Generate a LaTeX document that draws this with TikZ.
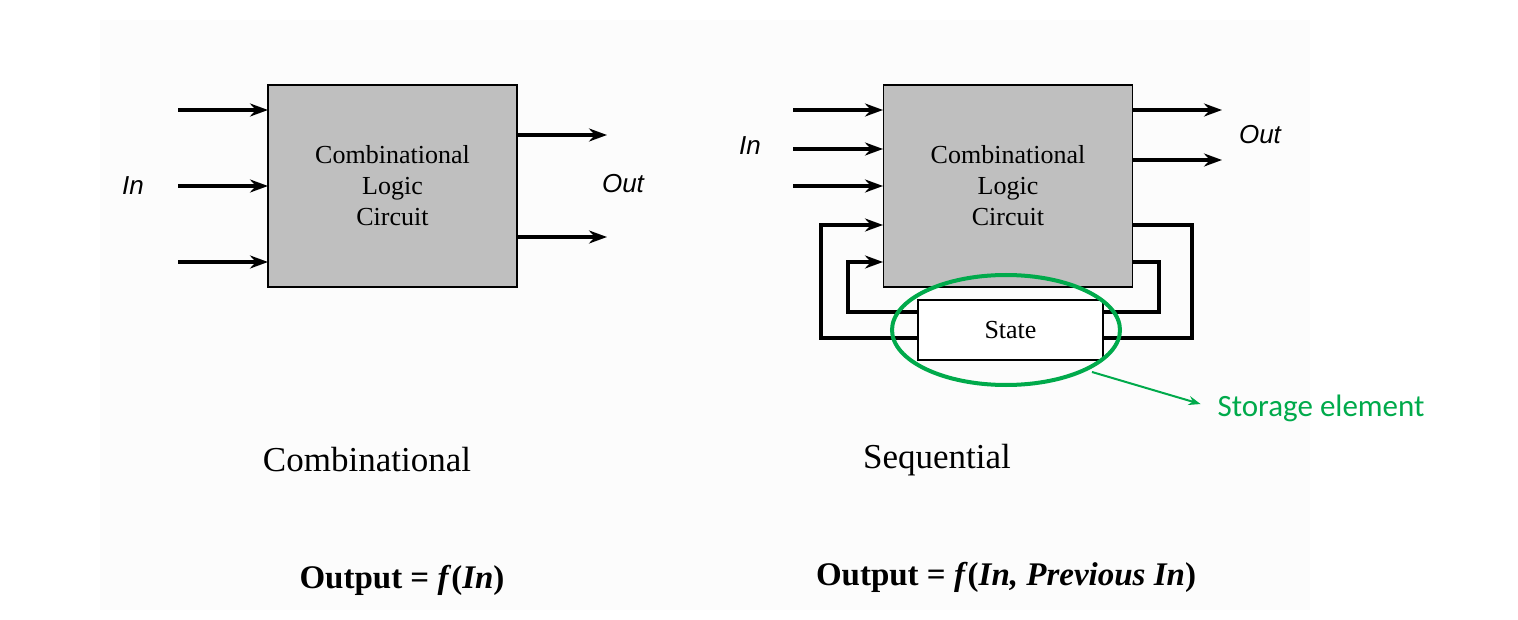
\documentclass[tikz,border=0pt]{standalone}
\usepackage{fontspec}
\setmainfont{Liberation Serif}
\setsansfont{Liberation Sans}
\newfontfamily\calfont{Carlito}
\usetikzlibrary{arrows.meta}
\definecolor{storegreen}{RGB}{0,170,75}
\tikzset{
  block/.style={draw,line width=1.5pt,fill=black!25,minimum width=249pt,minimum height=202pt,align=center,font=\fontsize{26}{31}\selectfont},
  wire/.style={line width=3.5pt,-{Stealth[length=18pt,width=13pt]}},
  loop/.style={line width=3.5pt},
  io/.style={font=\sffamily\itshape\fontsize{26}{30}\selectfont},
}
\begin{document}
\begin{tikzpicture}[x=1pt,y=-1pt,line join=miter]
  \useasboundingbox (0,0) rectangle (1518,620);
  \fill[black!1] (100,20) rectangle (1310,610);

  % combinational
  \node[block] (comb) at (392.5,186) {Combinational\\Logic\\Circuit};
  \foreach \y in {110,186,262}
    \draw[wire] (178,\y) -- (268,\y);
  \foreach \y in {135,237}
    \draw[wire] (517,\y) -- (607,\y);
  \node[io] (inL) at (133,186) {In};
  \node[io] (outL) at (623,184) {Out};

  % sequential
  \node[block] (seq) at (1008,186) {Combinational\\Logic\\Circuit};
  \node[draw,line width=1.5pt,fill=white,minimum width=185pt,minimum height=60pt,font=\fontsize{26}{30}\selectfont] (state) at (1010.5,330) {State};
  \foreach \y in {110,149,186}
    \draw[wire] (793,\y) -- (883,\y);
  \foreach \y in {110,160}
    \draw[wire] (1133,\y) -- (1222,\y);
  \node[io] (inR) at (750,146) {In};
  \node[io] (outR) at (1260,135) {Out};
  \draw[loop] (1133,225) -- (1192,225) -- (1192,338) -- (1103,338);
  \draw[loop] (1133,262) -- (1159,262) -- (1159,312) -- (1103,312);
  \draw[wire] (918,338) -- (821,338) -- (821,225) -- (883,225);
  \draw[wire] (918,312) -- (848,312) -- (848,262) -- (883,262);

  % storage element
  \draw[storegreen,line width=4pt] (1006,330) ellipse[x radius=114pt,y radius=55pt];
  \coordinate (tail) at (1092,372);
  \node[text=storegreen,font=\calfont\fontsize{31}{35}\selectfont,anchor=west] (store) at (1214,408) {Storage element};
  \draw[storegreen,line width=2pt,-{Stealth[length=12pt,width=9pt]},shorten >=14pt] (tail) -- (store.west);

  % captions
  \node[font=\fontsize{35}{40}\selectfont] (capL) at (367,460) {Combinational};
  \node[font=\fontsize{35}{40}\selectfont] (capR) at (937,460) {Sequential};
  \node[font=\bfseries\fontsize{33}{38}\selectfont] (eqL) at (402,580) {Output = \textit{f}(\textit{In})};
  \node[font=\bfseries\fontsize{33}{38}\selectfont] (eqR) at (1006,577) {Output = \textit{f}(\textit{In, Previous In})};
\end{tikzpicture}
\end{document}
